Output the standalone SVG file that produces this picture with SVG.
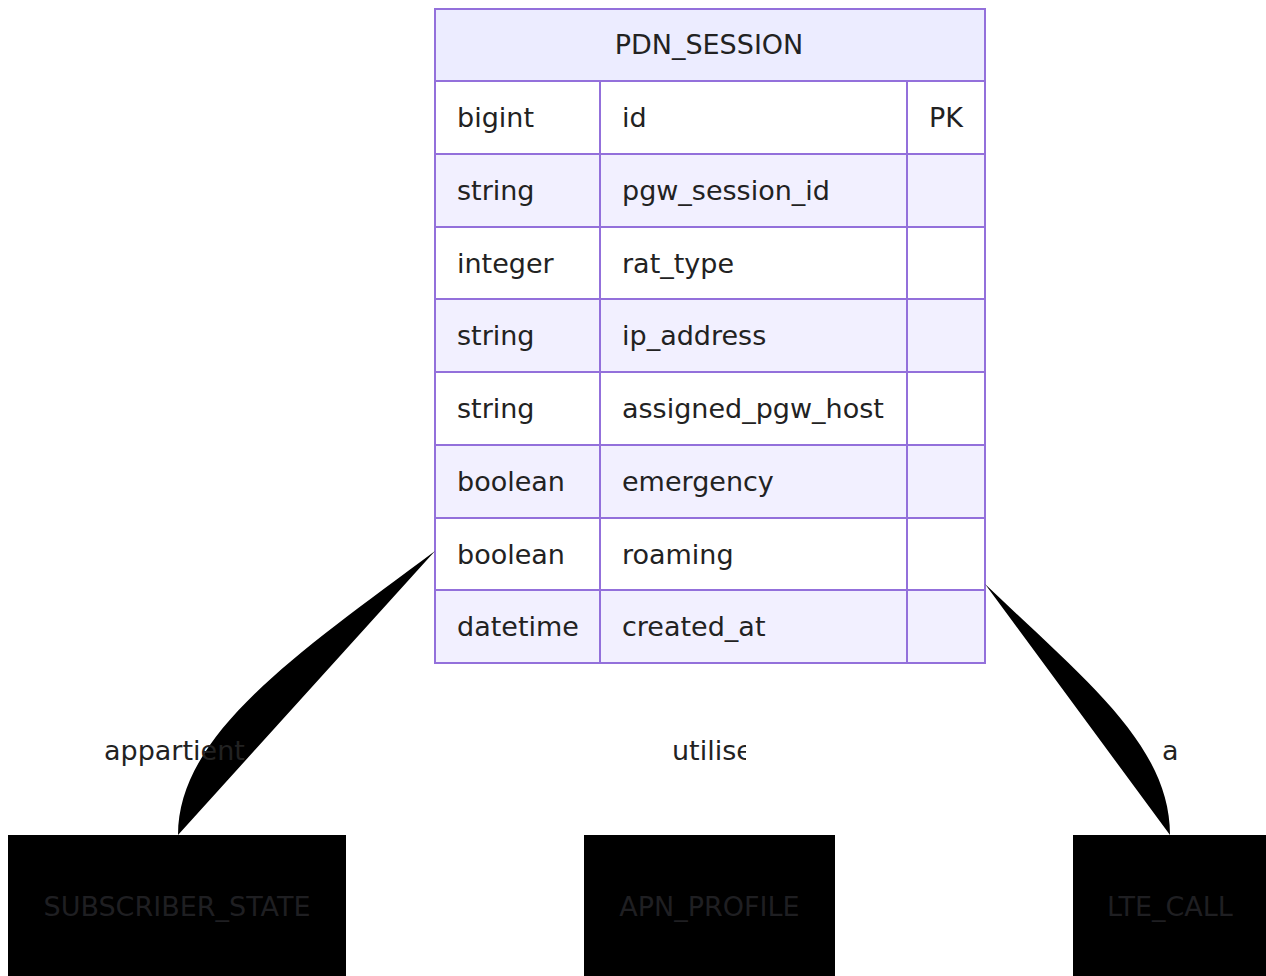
<svg xmlns="http://www.w3.org/2000/svg" width="1266" height="976" viewBox="0 0 1266 976">
<style>
text{font-family:"DejaVu Sans",Verdana,sans-serif;font-size:27px;fill:#222}
.hdr{fill:#ececff;stroke:#9370db;stroke-width:2}
.odd{fill:#ffffff;stroke:#9370db;stroke-width:2}
.even{fill:#f2f0ff;stroke:#9370db;stroke-width:2}
.ent{fill:#000}
.ent text{fill:#1f1f22}
.conn{fill:#000;stroke:none}
.mid{text-anchor:middle}
</style>
<defs>
<clipPath id="clipUtil"><rect x="660" y="720" width="86" height="60"/></clipPath>
</defs>
<g id="PDN_SESSION">
<rect class="hdr" x="435" y="9" width="550" height="72"/>
<text class="mid" x="709" y="54">PDN_SESSION</text>
<rect class="odd" x="435" y="81" width="165" height="73"/><rect class="odd" x="600" y="81" width="307" height="73"/><rect class="odd" x="907" y="81" width="78" height="73"/>
<rect class="even" x="435" y="154" width="165" height="73"/><rect class="even" x="600" y="154" width="307" height="73"/><rect class="even" x="907" y="154" width="78" height="73"/>
<rect class="odd" x="435" y="227" width="165" height="72"/><rect class="odd" x="600" y="227" width="307" height="72"/><rect class="odd" x="907" y="227" width="78" height="72"/>
<rect class="even" x="435" y="299" width="165" height="73"/><rect class="even" x="600" y="299" width="307" height="73"/><rect class="even" x="907" y="299" width="78" height="73"/>
<rect class="odd" x="435" y="372" width="165" height="73"/><rect class="odd" x="600" y="372" width="307" height="73"/><rect class="odd" x="907" y="372" width="78" height="73"/>
<rect class="even" x="435" y="445" width="165" height="73"/><rect class="even" x="600" y="445" width="307" height="73"/><rect class="even" x="907" y="445" width="78" height="73"/>
<rect class="odd" x="435" y="518" width="165" height="72"/><rect class="odd" x="600" y="518" width="307" height="72"/><rect class="odd" x="907" y="518" width="78" height="72"/>
<rect class="even" x="435" y="590" width="165" height="73"/><rect class="even" x="600" y="590" width="307" height="73"/><rect class="even" x="907" y="590" width="78" height="73"/>
<text x="457" y="127">bigint</text><text x="622" y="127">id</text><text x="929" y="127">PK</text>
<text x="457" y="200">string</text><text x="622" y="200">pgw_session_id</text>
<text x="457" y="273">integer</text><text x="622" y="273">rat_type</text>
<text x="457" y="345">string</text><text x="622" y="345">ip_address</text>
<text x="457" y="418">string</text><text x="622" y="418">assigned_pgw_host</text>
<text x="457" y="491">boolean</text><text x="622" y="491">emergency</text>
<text x="457" y="564">boolean</text><text x="622" y="564">roaming</text>
<text x="457" y="636">datetime</text><text x="622" y="636">created_at</text>
</g>
<g id="connectors">
<path class="conn" d="M435,551 C295,655 178,735 178,835 Z"/>
<path class="conn" d="M710,663 L710,835 Z"/>
<path class="conn" d="M985,584 C1085,680 1170,745 1170,835 Z"/>
</g>
<g id="labels">
<text x="104" y="760">appartient</text>
<text x="672" y="760" clip-path="url(#clipUtil)">utilise</text>
<text x="1162" y="760">a</text>
</g>
<g id="SUBSCRIBER_STATE" class="ent">
<rect x="8" y="835" width="338" height="160"/>
<text class="mid" x="177" y="916">SUBSCRIBER_STATE</text>
</g>
<g id="APN_PROFILE" class="ent">
<rect x="584" y="835" width="251" height="160"/>
<text class="mid" x="709.5" y="916">APN_PROFILE</text>
</g>
<g id="LTE_CALL" class="ent">
<rect x="1073" y="835" width="210" height="160"/>
<text class="mid" x="1170" y="916">LTE_CALL</text>
</g>
</svg>
